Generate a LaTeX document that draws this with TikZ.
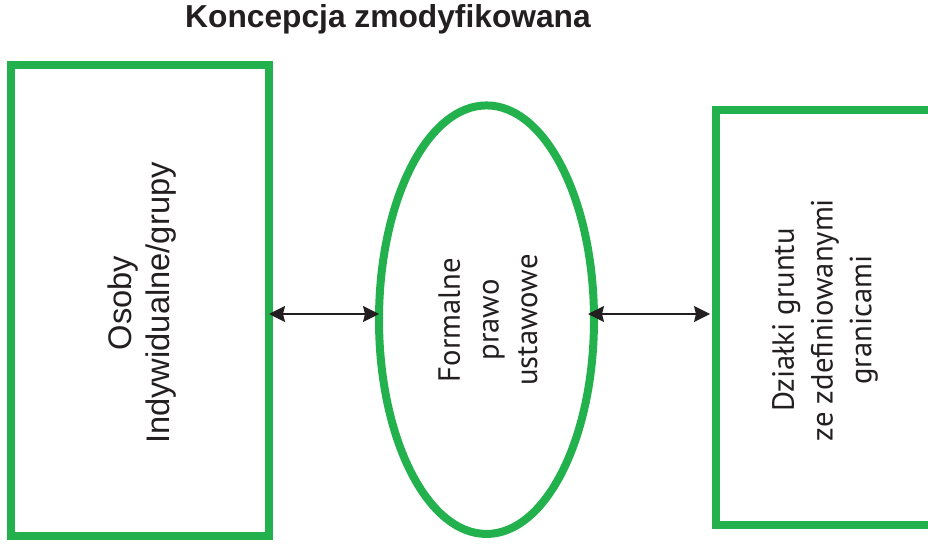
\documentclass[tikz,border=0pt]{standalone}
\usepackage{fontspec}
\setmainfont{Liberation Sans}
\newfontfamily\humanist{PT Sans}
\usetikzlibrary{shapes.geometric,arrows.meta}
\definecolor{frame}{RGB}{35,177,77}
\definecolor{ink}{RGB}{35,31,32}

\begin{document}
\begin{tikzpicture}[x=0.75pt,y=-0.75pt,
  box/.style={draw=frame,line width=6pt,inner sep=0pt,outer sep=0pt},
  lbl/.style={rotate=90,align=center,text=ink,inner sep=0pt},
  tip/.style={Stealth[length=12pt,width=12pt,inset=1.5pt]},
  link/.style={draw=ink,line width=1.1pt,{Stealth[length=12pt,width=12pt,inset=1.5pt]}-{Stealth[length=12pt,width=12pt,inset=1.5pt]}}]
\useasboundingbox (0,0) rectangle (928,552);
\clip (0,0) rectangle (928,552);

% heading
\node[anchor=base,text=ink,font=\bfseries\fontsize{23.8pt}{28pt}\selectfont] (title) at (388,28) {Koncepcja zmodyfikowana};

% the three frames
\node[box,rectangle,minimum width=193.5pt,minimum height=352.9pt] (L) at (140,300.25) {};
\node[box,ellipse,minimum width=161.25pt,minimum height=321.4pt] (E) at (486.5,319.7) {};
\node[box,rectangle,minimum width=163.5pt,minimum height=310.9pt] (R) at (825,317.25) {};

% rotated captions
\node[lbl,font=\fontsize{24.5pt}{28.5pt}\selectfont] (Lt) at (142,303) {Osoby\\Indywidualne/grupy};
\node[lbl,font=\humanist\fontsize{23pt}{29pt}\selectfont] (Et) at (488,320) {Formalne\\prawo\\ustawowe};
\node[lbl,font=\humanist\fontsize{23pt}{29pt}\selectfont] (Rt) at (825,320) {Działki gruntu\\ze zdefiniowanymi\\granicami};

% two-way links
\coordinate (ay) at (0,314);
\draw[link] (L.east |- ay) -- (E.west |- ay);
\draw[link,shorten <=-4.5pt,shorten >=4.5pt] (E.east |- ay) -- (R.west |- ay);
\end{tikzpicture}
\end{document}
